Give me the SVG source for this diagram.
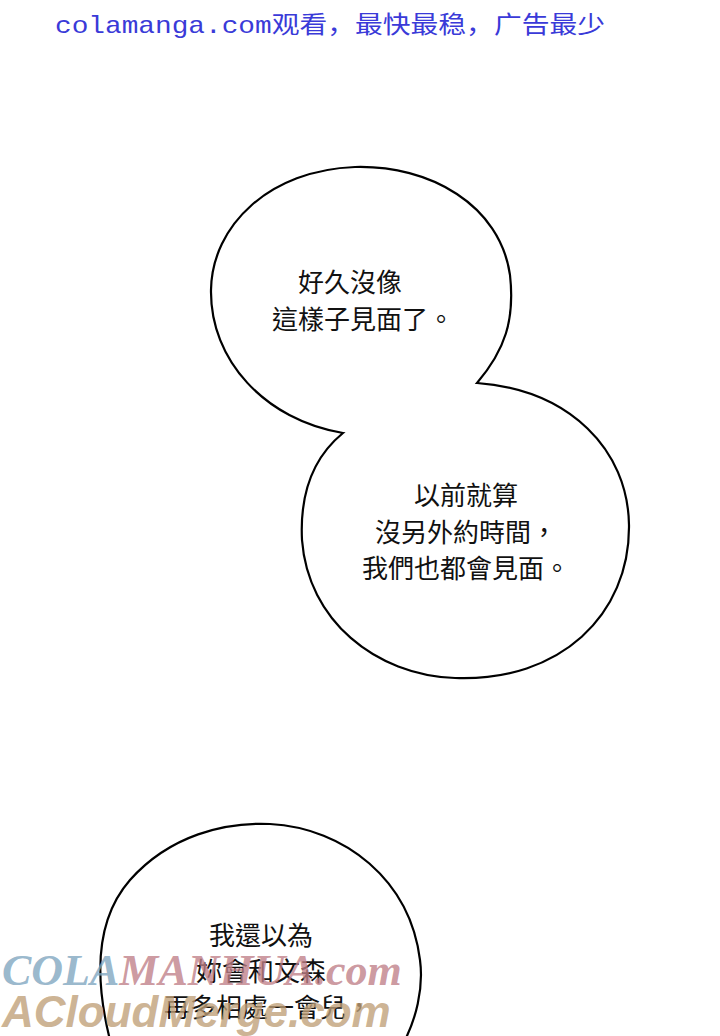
<svg xmlns="http://www.w3.org/2000/svg" width="720" height="1036" viewBox="0 0 720 1036">
<style>
.b{fill:#fff;stroke:#000;stroke-width:2.2}
.t{font-family:"Noto Sans CJK TC","Noto Sans CJK SC",sans-serif;font-size:26px;fill:#111;text-anchor:middle}
</style>
<rect width="720" height="1036" fill="#fff"/>
<text x="55" y="33" font-family="'Liberation Mono','Noto Sans CJK SC',monospace" font-size="24" fill="#3a3ad8" textLength="550" lengthAdjust="spacingAndGlyphs">colamanga.com观看，最快最稳，广告最少</text>
<g id="bubble1">
<path class="b" d="M477,383 C505,350 515,320 510,275 C500,205 430,165 355,167 C270,170 212,225 211,290 C210,360 265,420 343,433 C310,460 300,500 302,540 C308,620 375,675 455,678 C560,682 630,615 629,525 C628,450 570,390 477,383 Z"/>
<text class="t" x="350" y="292">好久沒像</text>
<text class="t" x="363" y="329">這樣子見面了。</text>
<text class="t" x="466" y="505">以前就算</text>
<text class="t" x="466" y="542">沒另外約時間，</text>
<text class="t" x="466" y="578">我們也都會見面。</text>
</g>
<g id="bubble2">
<path class="b" d="M110,1040 C95,980 95,920 130,880 C170,835 225,822 270,824 C345,828 410,880 420,960 C424,990 415,1020 405,1040"/>
<text class="t" x="261" y="945">我還以為</text>
<text class="t" x="261" y="981">妳會和文森</text>
<text class="t" x="268" y="1017">再多相處一會兒，</text>
</g>
<g id="watermark" font-weight="bold" font-size="44">
<text x="2" y="985" font-family="'Liberation Serif',serif" font-style="italic" fill="#7fa6bf" fill-opacity="0.8">COLA<tspan fill="#c08088">MANHUA.com</tspan></text>
<text x="2" y="1027" font-family="'Liberation Sans',sans-serif" font-style="italic" fill="#c0a078" fill-opacity="0.8">ACloudMerge.com</text>
</g>
</svg>
